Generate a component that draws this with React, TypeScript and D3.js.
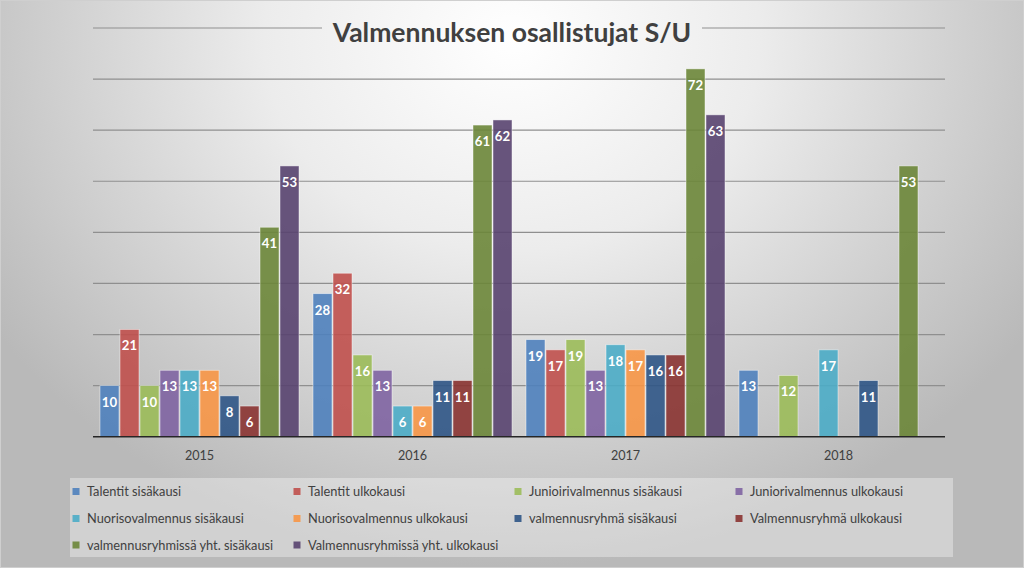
import React from "react";
import * as d3 from "d3";

const years = ["2015", "2016", "2017", "2018"];
const seriesNames = [
  "Talentit sisäkausi",
  "Talentit ulkokausi",
  "Junioirivalmennus sisäkausi",
  "Juniorivalmennus ulkokausi",
  "Nuorisovalmennus sisäkausi",
  "Nuorisovalmennus ulkokausi",
  "valmennusryhmä sisäkausi",
  "Valmennusryhmä ulkokausi",
  "valmennusryhmissä yht. sisäkausi",
  "Valmennusryhmissä yht. ulkokausi",
];
const talentitSisa = [10, 28, 19, 13];
const talentitUlko = [21, 32, 17, null];
const junioriSisa = [10, 16, 19, 12];
const junioriUlko = [13, 13, 13, null];
const nuorisoSisa = [13, 6, 18, 17];
const nuorisoUlko = [13, 6, 17, null];
const ryhmaSisa = [8, 11, 16, 11];
const ryhmaUlko = [6, 11, 16, null];
const yhtSisa = [41, 61, 72, 53];
const yhtUlko = [53, 62, 63, null];
const seriesValues: (number | null)[][] = [
  talentitSisa, talentitUlko, junioriSisa, junioriUlko, nuorisoSisa,
  nuorisoUlko, ryhmaSisa, ryhmaUlko, yhtSisa, yhtUlko,
];
const colors = [
  "#4F81BD", "#C0504D", "#9BBB59", "#8064A2", "#4BACC6",
  "#F79646", "#2F5586", "#8A3331", "#6B8638", "#58436F",
];
const yTicks = [10, 20, 30, 40, 50, 60, 70, 80];

const W = 1024, H = 568;
const FONT = "Lato, 'Liberation Sans', sans-serif";

export default function App() {
  const x0 = d3.scaleBand<string>().domain(years).range([93, 945]).padding(0);
  const x1 = d3
    .scaleBand<string>()
    .domain(seriesNames)
    .range([0, x0.bandwidth()])
    .paddingInner(0)
    .paddingOuter(0.325);
  const y = d3.scaleLinear().domain([0, 80]).range([436.7, 28]);
  const step = x1.step();

  const legendCols = [76, 297, 518, 739];
  const legendRows = [491.5, 518.5, 545];

  return (
    <svg
      width={W}
      height={H}
      style={{ position: "absolute", left: 0, top: 0 }}
      fontFamily={FONT}
    >
      <defs>
        <radialGradient
          id="bg"
          gradientUnits="userSpaceOnUse"
          cx={512}
          cy={40}
          r={620}
          gradientTransform="translate(512 40) scale(1 0.85) translate(-512 -40)"
        >
          <stop offset="0%" stopColor="#ffffff" />
          <stop offset="40%" stopColor="#ececec" />
          <stop offset="100%" stopColor="#b9b9b9" />
        </radialGradient>
      </defs>
      <rect x={0} y={0} width={W} height={H} fill="url(#bg)" />
      <rect x={0.5} y={0.5} width={W - 1} height={H - 1} fill="none" stroke="#cfcfcf" />

      {/* gridlines */}
      {yTicks.map((t) => (
        <line
          key={t}
          x1={93}
          x2={945}
          y1={y(t)}
          y2={y(t)}
          stroke="#8f8f8f"
          strokeWidth={1.2}
        />
      ))}

      {/* title background & title */}
      <rect x={322} y={12} width={380} height={40} fill="url(#bg)" />
      <text
        x={512}
        y={42}
        textAnchor="middle"
        fontSize={26.5}
        fontWeight="bold"
        fill="#404040"
      >
        Valmennuksen osallistujat S/U
      </text>

      {/* bars */}
      {seriesNames.map((s, si) =>
        years.map((yr, yi) => {
          const v = seriesValues[si][yi];
          if (v == null) return null;
          const bx = (x0(yr) as number) + (x1(s) as number);
          const top = y(v);
          return (
            <g key={s + yr}>
              <rect
                x={bx + 0.5}
                y={top}
                width={step - 1}
                height={y(0) - top}
                fill={colors[si]}
                fillOpacity={0.9}
                stroke="#ffffff"
                strokeOpacity={0.55}
                strokeWidth={0.8}
              />
              <text
                x={bx + step / 2}
                y={top + 21}
                textAnchor="middle"
                fontSize={13.2}
                fontWeight="bold"
                fill="#ffffff"
              >
                {v}
              </text>
            </g>
          );
        })
      )}

      {/* baseline */}
      <line x1={93} x2={945} y1={y(0)} y2={y(0)} stroke="#262626" strokeWidth={1.6} />

      {/* x labels */}
      {years.map((yr) => (
        <text
          key={yr}
          x={(x0(yr) as number) + x0.bandwidth() / 2}
          y={460}
          textAnchor="middle"
          fontSize={12.6}
          fill="#404040"
        >
          {yr}
        </text>
      ))}

      {/* legend */}
      <rect x={70} y={478} width={883} height={79} fill="#ffffff" fillOpacity={0.35} />
      {seriesNames.map((s, i) => {
        const cx = legendCols[i % 4];
        const cy = legendRows[Math.floor(i / 4)];
        return (
          <g key={s}>
            <rect x={cx - 3.5} y={cy - 3.5} width={7} height={7} fill={colors[i]} fillOpacity={0.9} />
            <text x={cx + 11} y={cy + 4.5} fontSize={12.8} fill="#404040">
              {s}
            </text>
          </g>
        );
      })}
    </svg>
  );
}
